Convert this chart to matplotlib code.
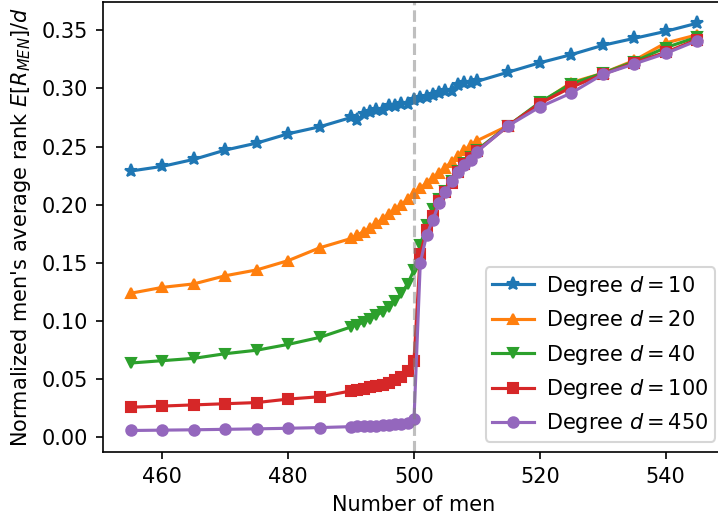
import numpy as np
import matplotlib
matplotlib.use("Agg")
import matplotlib.pyplot as plt

n_men = [455, 460, 465, 470, 475, 480, 485,
         490, 491, 492, 493, 494, 495, 496, 497, 498, 499, 500,
         501, 502, 503, 504, 505, 506, 507, 508, 509, 510,
         515, 520, 525, 530, 535, 540, 545]

rank_d10 = [0.229, 0.233, 0.239, 0.247, 0.253, 0.261, 0.267,
            0.275, 0.273, 0.278, 0.280, 0.281, 0.281, 0.285, 0.285, 0.287, 0.287, 0.290,
            0.292, 0.293, 0.294, 0.296, 0.298, 0.298, 0.303, 0.305, 0.305, 0.306,
            0.314, 0.322, 0.329, 0.337, 0.343, 0.349, 0.356]

rank_d20 = [0.124, 0.129, 0.132, 0.139, 0.144, 0.152, 0.163,
            0.171, 0.174, 0.177, 0.180, 0.184, 0.188, 0.192, 0.196, 0.200, 0.205, 0.210,
            0.214, 0.219, 0.223, 0.227, 0.232, 0.237, 0.242, 0.247, 0.251, 0.255,
            0.268, 0.287, 0.305, 0.313, 0.324, 0.339, 0.346]

rank_d40 = [0.064, 0.066, 0.068, 0.072, 0.075, 0.080, 0.086,
            0.095, 0.097, 0.099, 0.102, 0.105, 0.108, 0.112, 0.117, 0.124, 0.132, 0.144,
            0.165, 0.183, 0.196, 0.205, 0.212, 0.220, 0.229, 0.236, 0.241, 0.247,
            0.268, 0.288, 0.304, 0.313, 0.323, 0.335, 0.344]

rank_d100 = [0.026, 0.027, 0.028, 0.029, 0.030, 0.033, 0.035,
             0.040, 0.041, 0.042, 0.043, 0.044, 0.045, 0.047, 0.049, 0.052, 0.057, 0.066,
             0.158, 0.178, 0.190, 0.203, 0.211, 0.219, 0.228, 0.235, 0.240, 0.246,
             0.268, 0.287, 0.301, 0.312, 0.322, 0.331, 0.342]

rank_d450 = [0.0060, 0.0063, 0.0066, 0.0070, 0.0074, 0.0079, 0.0085,
             0.0093, 0.0095, 0.0097, 0.0099, 0.0102, 0.0105, 0.0109, 0.0114, 0.0120, 0.0128, 0.0155,
             0.150, 0.174, 0.187, 0.2015, 0.211, 0.220, 0.2285, 0.234, 0.2385, 0.2455,
             0.268, 0.284, 0.296, 0.312, 0.321, 0.330, 0.341]

degrees = [10, 20, 40, 100, 450]
series = [rank_d10, rank_d20, rank_d40, rank_d100, rank_d450]
markers = ['*', '^', 'v', 's', 'o']
marker_sizes = [6.5, 5, 5, 5, 5]

fig = plt.figure(figsize=(718 / 150, 516 / 150), dpi=150)
ax = fig.add_axes([0.1430, 0.124, 1.0102 - 0.1430, 0.9967 - 0.124])

for d, vals, m, ms in zip(degrees, series, markers, marker_sizes):
    ax.plot(n_men, vals, marker=m, markersize=ms, label=r'Degree $d = %d$' % d)

ax.axvline(500, color='gray', linestyle='--', alpha=0.5)

ax.set_xlim(450.5, 549.5)
ax.set_ylim(-0.0125, 0.3745)
ax.set_xticks([460, 480, 500, 520, 540])
ax.set_yticks([0.00, 0.05, 0.10, 0.15, 0.20, 0.25, 0.30, 0.35])
ax.set_xlabel('Number of men')
ax.set_ylabel(r"Normalized men's average rank $E[R_{MEN}]/d$")
ax.legend(loc='lower right', borderpad=0.3, handletextpad=0.6)

fig.savefig('out.png', dpi=150)
